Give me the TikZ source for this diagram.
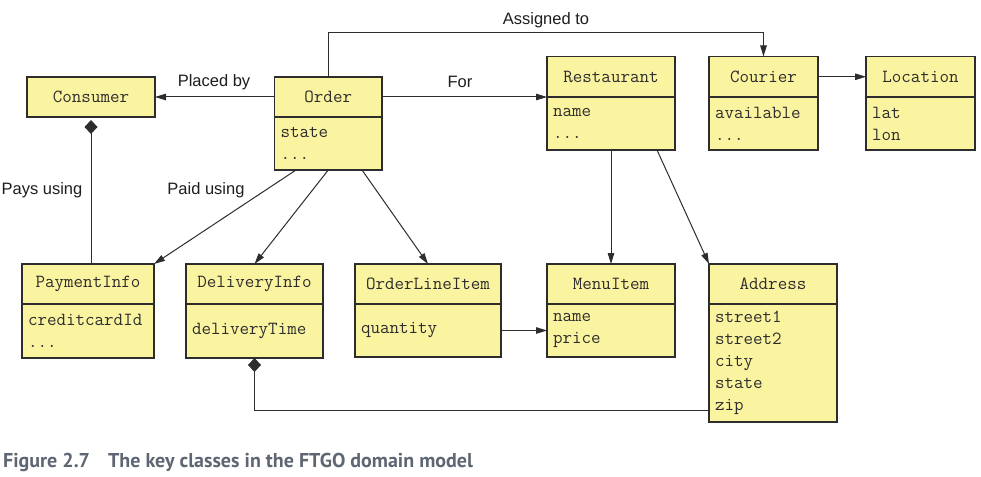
\documentclass[tikz,border=0pt]{standalone}
\usepackage{fontspec}
\newfontfamily\lblf{Liberation Sans}
\newfontfamily\capfont{PT Sans}
\usetikzlibrary{arrows.meta,calc}
\definecolor{boxfill}{RGB}{250,243,160}
\definecolor{linecol}{RGB}{45,45,45}
\definecolor{txtcol}{RGB}{45,45,45}
\definecolor{lblcol}{RGB}{30,30,30}
\definecolor{capcol}{RGB}{95,102,115}
\begin{document}
\begin{tikzpicture}[x=1pt,y=-1pt,
  cls/.style={draw=linecol, fill=boxfill, line width=1.1pt, anchor=north west,
    outer sep=0pt, text=txtcol, font=\ttfamily\fontsize{18.5}{22}\selectfont},
  hdr/.style={cls, inner sep=0pt},
  body/.style={cls, inner xsep=6pt, inner ysep=0pt, align=left},
  conn/.style={draw=linecol, line width=1pt},
  arr/.style={conn, -{Triangle[length=11pt,width=6.5pt]}},
  comp/.style={conn, {Diamond[length=14pt,width=13pt]}-},
  lbl/.style={text=lblcol, inner sep=0pt, font=\lblf\fontsize{16.5}{20}\selectfont},
  captxt/.style={text=capcol, inner sep=0pt, anchor=base west, font=\capfont\bfseries\fontsize{20}{22}\selectfont}
]
\useasboundingbox[fill=white] (0,0) rectangle (981,476);

% classes
\node[hdr, minimum width=128pt, minimum height=40pt] (consumer) at (27,77) {Consumer};

\node[hdr, minimum width=107.5pt, minimum height=40pt] (order) at (274.5,77) {Order};
\node[body, text width=95.5pt, minimum height=53pt] (orderb) at (order.south west) {state\\...};

\node[hdr, minimum width=128pt, minimum height=40.5pt] (rest) at (547,56.5) {Restaurant};
\node[body, text width=116pt, minimum height=53pt] (restb) at (rest.south west) {name\\...};

\node[hdr, minimum width=109pt, minimum height=40.5pt] (courier) at (709,56.5) {Courier};
\node[body, text width=97pt, minimum height=53pt] (courierb) at (courier.south west) {available\\...};

\node[hdr, minimum width=109pt, minimum height=40.5pt] (loc) at (866,56.5) {Location};
\node[body, text width=97pt, minimum height=53pt] (locb) at (loc.south west) {lat\\lon};

\node[hdr, minimum width=132pt, minimum height=40pt] (pay) at (22,264) {PaymentInfo};
\node[body, text width=120pt, minimum height=54pt] (payb) at (pay.south west) {creditcardId\\...};

\node[hdr, minimum width=137pt, minimum height=40pt] (deliv) at (186,264) {DeliveryInfo};
\node[body, text width=125pt, minimum height=54pt] (delivb) at (deliv.south west) {deliveryTime};

\node[hdr, minimum width=146pt, minimum height=40pt] (oli) at (355,264) {OrderLineItem};
\node[body, text width=134pt, minimum height=53pt] (olib) at (oli.south west) {quantity};

\node[hdr, minimum width=128pt, minimum height=40pt] (menu) at (547,264) {MenuItem};
\node[body, text width=116pt, minimum height=53pt] (menub) at (menu.south west) {name\\price};

\node[hdr, minimum width=128pt, minimum height=40pt] (addr) at (709,264) {Address};
\node[body, text width=116pt, minimum height=118pt] (addrb) at (addr.south west) {street1\\street2\\city\\state\\zip};

% helper coordinates
\coordinate (o1) at ($(orderb.south west)+(21.5,0)$);
\coordinate (o3) at ($(orderb.south west)+(87.5,0)$);
\coordinate (r2) at ($(restb.south west)+(110,0)$);
\coordinate (zipw) at ($(addrb.south west)+(0,-12)$);

% connectors
\draw[arr] (order.west) -- (consumer.east);
\draw[arr] (order.north) -- ++(0,-44) -| (courier.north);
\draw[arr] (order.east) -- (rest.south west);
\draw[arr] (courier.east) -- (loc.west);
\draw[comp, shorten <=3pt] (consumer.south) -- (consumer.south |- pay.north);
\draw[arr] (o1) -- (pay.north east);
\draw[arr] (orderb.south) -- (deliv.north);
\draw[arr] (o3) -- (oli.north);
\draw[arr] (restb.south) -- (menu.north);
\draw[arr] (r2) -- (addr.north west);
\draw[arr] (olib.east) -- (menub.west);
\draw[comp] (delivb.south) |- (zipw);

% labels
\node[lbl] (lplaced) at (214,82) {Placed by};
\node[lbl] (lassigned) at (546,20) {Assigned to};
\node[lbl] (lfor) at (460,82) {For};
\node[lbl] (lpays) at (42,190) {Pays using};
\node[lbl] (lpaid) at (206,190) {Paid using};

% caption
\node[captxt] (caption) at (3,467) {Figure 2.7\hspace{18pt}The key classes in the FTGO domain model};
\end{tikzpicture}
\end{document}
